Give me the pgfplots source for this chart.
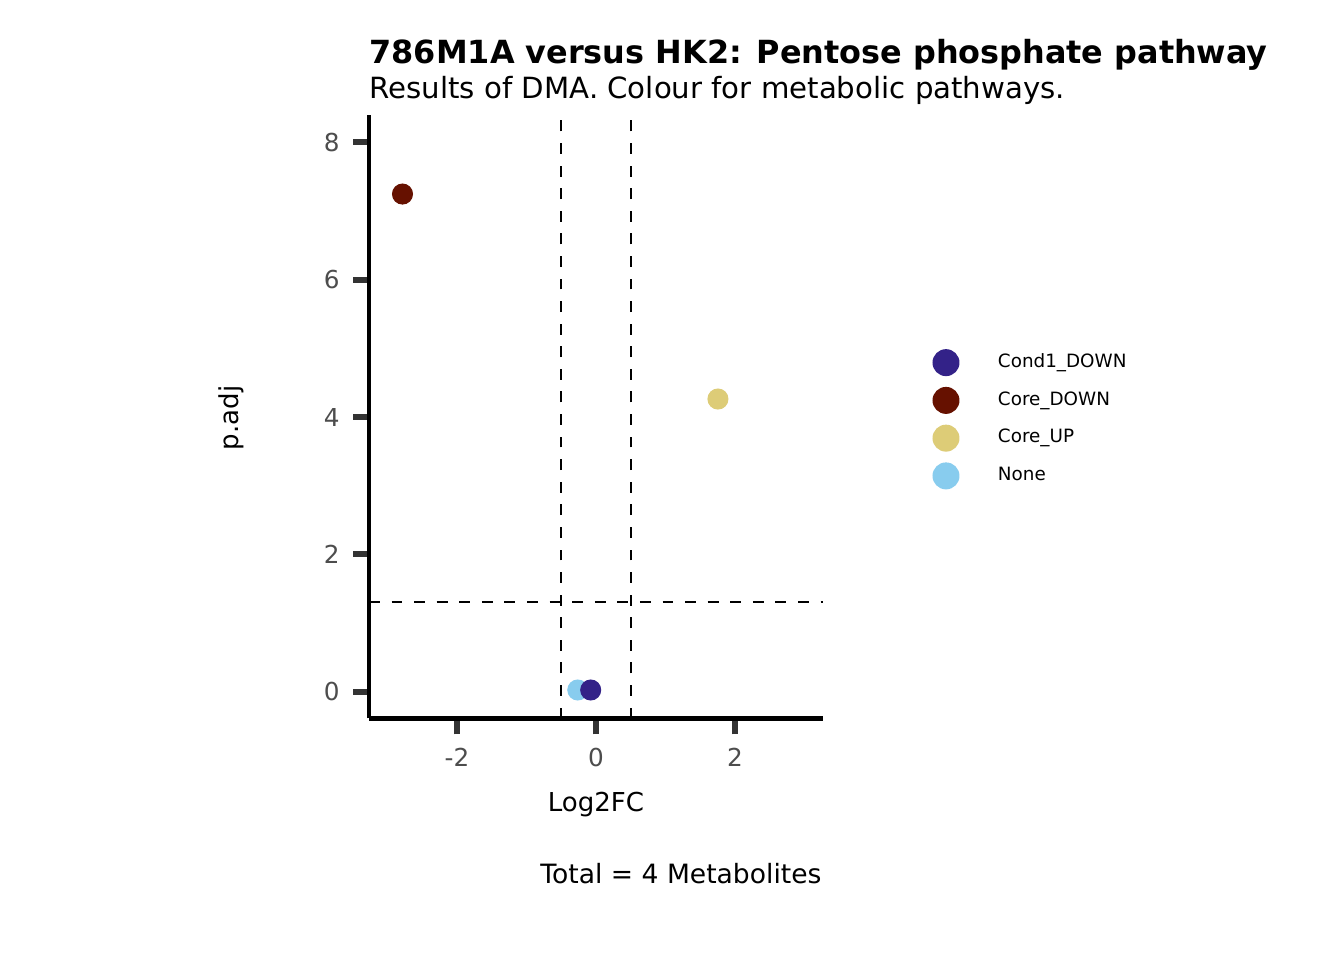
\documentclass[border=0pt]{standalone}
\usepackage{fontspec}
\setmainfont{DejaVu Sans}
\usepackage{pgfplots}
\pgfplotsset{compat=1.18}
\definecolor{cCond}{HTML}{332288}
\definecolor{cCoreDown}{HTML}{661100}
\definecolor{cCoreUp}{HTML}{DDCC77}
\definecolor{cNone}{HTML}{88CCEE}
\definecolor{tickgray}{HTML}{333333}
\definecolor{labgray}{HTML}{4D4D4D}
\newcommand\legdot[1]{\addlegendimage{legend image code/.code={\fill[#1, draw=none] (5.08pt,0pt) circle (5.08pt); \path[draw=none, fill=none] (0pt,0pt) -- (24.65pt,0pt);}}}
\begin{document}
\begin{tikzpicture}
\useasboundingbox (0,0) rectangle (505.88pt,361.34pt);
\fill[white] (0,0) rectangle (505.88pt,361.34pt);
\begin{axis}[
  at={(138.89pt,90.90pt)}, anchor=south west,
  scale only axis, width=170.77pt, height=227.16pt,
  xmin=-3.266, xmax=3.262, ymin=-0.39, ymax=8.398,
  axis lines=left,
  axis line style={-, line width=1.6pt, black},
  xtick={-2,0,2}, ytick={0,2,4,6,8},
  tick align=outside,
  major tick length=6pt,
  tick style={line width=2.26pt, tickgray},
  ticklabel style={font=\fontsize{9.3}{11}\selectfont, text=labgray},
  xticklabel style={yshift=-1.5pt},
  yticklabel style={xshift=-1.5pt},
  /pgf/number format/assume math mode=true,
  clip=false,
  legend style={at={(1.242,0.612)}, anchor=north west, draw=none, fill=none,
    inner sep=0pt, outer sep=0pt, row sep=4.05pt,
    nodes={inner sep=0pt, outer sep=0pt},
    font=\fontsize{6.9}{8}\selectfont},
  legend cell align=left,
]
\addplot[only marks, mark=*, mark size=3.76pt, cNone, forget plot] coordinates {(-0.262,0.025)};
\addplot[only marks, mark=*, mark size=3.76pt, cCoreDown, forget plot] coordinates {(-2.784,7.247)};
\addplot[only marks, mark=*, mark size=3.76pt, cCoreUp, forget plot] coordinates {(1.755,4.262)};
\addplot[only marks, mark=*, mark size=3.76pt, cCond, forget plot] coordinates {(-0.076,0.025)};
\addplot[black, line width=0.75pt, dash pattern=on 4.1pt off 4.4pt, forget plot] coordinates {(-0.5,-0.39) (-0.5,8.398)};
\addplot[black, line width=0.75pt, dash pattern=on 4.1pt off 4.4pt, forget plot] coordinates {(0.5,-0.39) (0.5,8.398)};
\addplot[black, line width=0.75pt, dash pattern=on 4.1pt off 4.4pt, forget plot] coordinates {(-3.266,1.301) (3.262,1.301)};
\legdot{cCond}
\addlegendentry{Cond1\_DOWN}
\legdot{cCoreDown}
\addlegendentry{Core\_DOWN}
\legdot{cCoreUp}
\addlegendentry{Core\_UP}
\legdot{cNone}
\addlegendentry{None}
\end{axis}
\node[anchor=base west, font=\fontsize{12}{14}\selectfont\bfseries, inner sep=0pt] at (138.89pt,337.52pt) {786M1A versus HK2: Pentose phosphate pathway};
\node[anchor=base west, font=\fontsize{11}{13}\selectfont, inner sep=0pt] at (138.89pt,324.19pt) {Results of DMA. Colour for metabolic pathways.};
\node[anchor=center, rotate=90, font=\fontsize{9.8}{12}\selectfont, inner sep=0pt] at (87.14pt,204.01pt) {p.adj};
\node[anchor=base, font=\fontsize{9.8}{12}\selectfont, inner sep=0pt] at (224.33pt,55.82pt) {Log2FC};
\node[anchor=base east, font=\fontsize{10}{12}\selectfont, inner sep=0pt] at (309.4pt,28.61pt) {Total = 4 Metabolites};
\end{tikzpicture}
\end{document}
